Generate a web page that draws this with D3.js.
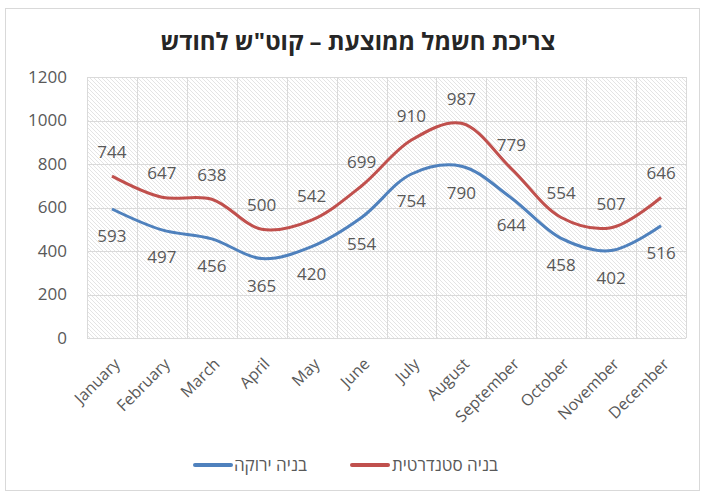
<!DOCTYPE html>
<html><head><meta charset="utf-8">
<script src="https://cdn.jsdelivr.net/npm/d3@7"></script>
<style>body{margin:0;background:#fff;} text{font-family:"Open Sans",sans-serif;}</style>
</head><body>
<svg id="c" width="704" height="495"></svg>
<script>
const months = ["January","February","March","April","May","June","July","August","September","October","November","December"];
const greenBuilding = [593,497,456,365,420,554,754,790,644,458,402,516];
const standardBuilding = [744,647,638,500,542,699,910,987,779,554,507,646];
const yTicks = [0,200,400,600,800,1000,1200];
const seriesNames = ["בניה סטנדרטית","בניה ירוקה"];
const title = "צריכת חשמל ממוצעת – קוט\"ש לחודש";

const svg = d3.select("#c");
const m={l:87,r:686,t:77,b:338};
svg.append("rect").attr("x",5.5).attr("y",8.5).attr("width",694).attr("height",482).attr("fill","#fff").attr("stroke","#d9d9d9");

const defs=svg.append("defs");
const pat=defs.append("pattern").attr("id","hatch").attr("patternUnits","userSpaceOnUse").attr("width",4).attr("height",4);
pat.append("rect").attr("width",4).attr("height",4).attr("fill","#ffffff");
pat.append("path").attr("d","M-1,-1L5,5M-1,3L1,5M3,-1L5,1").attr("stroke","#e4e4e4").attr("stroke-width",1);

const x=d3.scaleBand().domain(months).range([m.l,m.r]);
const y=d3.scaleLinear().domain([0,1200]).range([m.b,m.t]);

svg.append("rect").attr("x",m.l).attr("y",m.t).attr("width",m.r-m.l).attr("height",m.b-m.t).attr("fill","url(#hatch)");

// gridlines
const g=svg.append("g");
g.selectAll("line.h").data(yTicks).join("line").attr("x1",m.l).attr("x2",m.r).attr("y1",d=>Math.round(y(d))+0.5).attr("y2",d=>Math.round(y(d))+0.5).attr("stroke","#dadada");
const bounds=months.map(d=>x(d)).concat([m.r]);
g.selectAll("line.v").data(bounds).join("line").attr("y1",m.t).attr("y2",m.b).attr("x1",d=>Math.round(d)+0.5).attr("x2",d=>Math.round(d)+0.5).attr("stroke","#dadada");

// y axis labels
const ya=svg.append("g").attr("transform",`translate(${m.l-20},0)`).call(d3.axisLeft(y).tickValues(yTicks).tickFormat(d3.format("d")).tickSize(0).tickPadding(0));
ya.select(".domain").remove();
ya.selectAll("text").attr("font-size",17).attr("fill","#595959").attr("font-family","Open Sans");

// x axis labels
const xa=svg.append("g").attr("transform",`translate(0,${m.b})`).call(d3.axisBottom(x).tickSize(0).tickPadding(0));
xa.select(".domain").remove();
xa.selectAll("text").attr("font-size",16).attr("fill","#595959").attr("font-family","Open Sans")
  .attr("text-anchor","end").attr("dy",0).attr("y",0)
  .attr("transform","translate(9,27) rotate(-45)");

const line=d3.line().x((d,i)=>x(months[i])+x.bandwidth()/2).y(d=>y(d)).curve(d3.curveCatmullRom.alpha(0.5));
svg.append("path").datum(greenBuilding).attr("d",line).attr("fill","none").attr("stroke","#4F81BD").attr("stroke-width",3);
svg.append("path").datum(standardBuilding).attr("d",line).attr("fill","none").attr("stroke","#C0504D").attr("stroke-width",3);

// labels
svg.append("g").selectAll("text").data(standardBuilding).join("text")
  .attr("x",(d,i)=>x(months[i])+x.bandwidth()/2).attr("y",d=>y(d)-24).attr("dy","0.35em")
  .attr("text-anchor","middle").attr("font-size",17).attr("fill","#595959").text(d=>d);
svg.append("g").selectAll("text").data(greenBuilding).join("text")
  .attr("x",(d,i)=>x(months[i])+x.bandwidth()/2).attr("y",d=>y(d)+27).attr("dy","0.35em")
  .attr("text-anchor","middle").attr("font-size",17).attr("fill","#595959").text(d=>d);

// title
svg.append("text").attr("x",358).attr("y",42).attr("dy","0.35em").attr("text-anchor","middle")
  .attr("font-size",24).attr("font-weight","bold").attr("fill","#262626").attr("direction","rtl").text(title);

// legend
const legend=[{name:seriesNames[0],color:"#C0504D",lx:350,tx:498},{name:seriesNames[1],color:"#4F81BD",lx:193,tx:307}];
const lg=svg.append("g");
legend.forEach(d=>{
  lg.append("line").attr("x1",d.lx+2).attr("x2",d.lx+38).attr("y1",465).attr("y2",465).attr("stroke",d.color).attr("stroke-width",4).attr("stroke-linecap","round");
  lg.append("text").attr("x",d.tx).attr("y",465).attr("dy","0.35em").attr("text-anchor","start").attr("direction","rtl").attr("font-size",17).attr("fill","#595959").text(d.name);
});
</script>
</body></html>
